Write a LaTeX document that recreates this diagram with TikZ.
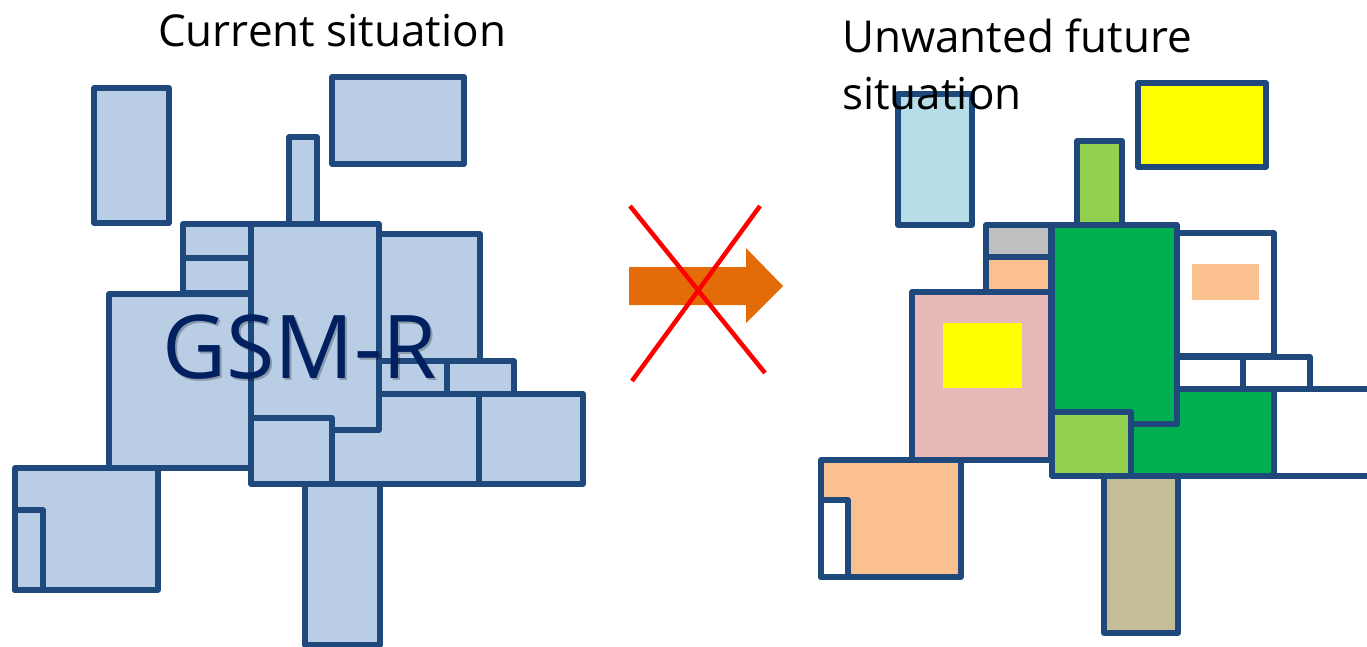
\documentclass[tikz,border=0pt]{standalone}
\usepackage{fontspec}
\setmainfont{Open Sans}
\definecolor{edge}{HTML}{1F497D}
\definecolor{lblue}{HTML}{B9CDE5}
\definecolor{skyb}{HTML}{B7DDE8}
\definecolor{grayf}{HTML}{BFBFBF}
\definecolor{peach}{HTML}{FAC090}
\definecolor{pink}{HTML}{E6B9B8}
\definecolor{dgreen}{HTML}{00B050}
\definecolor{lgreen}{HTML}{92D050}
\definecolor{tan}{HTML}{C4BD97}
\definecolor{yel}{HTML}{FFFF00}
\definecolor{navy}{HTML}{002060}
\definecolor{orng}{HTML}{E36C09}
\tikzset{
  box/.style={draw=edge,line width=5.5pt,line join=round},
  lbox/.style={box,fill=lblue},
  title/.style={anchor=base west,inner sep=0pt,font=\fontsize{44}{50}\selectfont},
  cross/.style={draw=red,line width=4.5pt}
}
\begin{document}
\begin{tikzpicture}[x=1pt,y=-1pt]
\useasboundingbox (0,0) rectangle (1367,647);
\begin{scope}
\clip (0,0) rectangle (1367,647);
% ---- left map ----
\draw[lbox] (94,88) rectangle (169,223);
\draw[lbox] (289,137) rectangle (317,224);
\draw[lbox] (332,77) rectangle (464,164);
\draw[lbox] (183,224) rectangle (251,258);
\draw[lbox] (183,258) rectangle (251,293);
\draw[lbox] (109,294) rectangle (251,468);
\draw[lbox] (15,468) rectangle (158,590);
\draw[lbox] (15,510) rectangle (43,590);
\draw[lbox] (379,234) rectangle (480,361);
\draw[lbox] (379,361) rectangle (447,394);
\draw[lbox] (447,361) rectangle (514,394);
\draw[lbox] (332,394) rectangle (479,484);
\draw[lbox] (479,394) rectangle (583,484);
\draw[lbox] (251,224) rectangle (379,430);
\draw[lbox] (251,418) rectangle (332,484);
\draw[lbox] (305,484) rectangle (380,645);
\node[anchor=base west,inner sep=0pt,text=black,opacity=0.25,font=\fontsize{88}{92}\selectfont] (gsmsh) at (164,380) {GSM-R};
\node[anchor=base west,inner sep=0pt,text=navy,font=\fontsize{88}{92}\selectfont] (gsm) at (162,378) {GSM-R};
% ---- arrow and cross ----
\fill[orng] (629,267) -- (746,267) -- (746,248) -- (783,286) -- (746,323) -- (746,305) -- (629,305) -- cycle;
\draw[cross] (630,206) -- (765,373);
\draw[cross] (760,206) -- (632,381);
% ---- right map ----
\draw[box,fill=skyb] (898,94) rectangle (972,225);
\draw[box,fill=lgreen] (1077,141) rectangle (1122,225);
\draw[box,fill=yel] (1138,83) rectangle (1266,167);
\draw[box,fill=grayf] (986,225) rectangle (1051,257);
\draw[box,fill=peach] (986,257) rectangle (1051,292);
\draw[box,fill=pink] (912,292) rectangle (1051,460);
\fill[yel] (943,323) rectangle (1022,388);
\draw[box,fill=peach] (821,460) rectangle (961,577);
\draw[box,fill=white] (821,500) rectangle (848,577);
\draw[box,fill=white] (1176,233) rectangle (1274,356);
\fill[peach] (1192,264) rectangle (1259,300);
\draw[box,fill=white] (1177,357) rectangle (1243,389);
\draw[box,fill=white] (1243,357) rectangle (1310,389);
\draw[box,fill=dgreen] (1131,389) rectangle (1274,476);
\draw[box,fill=white] (1274,389) rectangle (1390,476);
\draw[box,fill=dgreen] (1052,225) rectangle (1177,424);
\draw[box,fill=lgreen] (1052,412) rectangle (1131,476);
\draw[box,fill=tan] (1104,476) rectangle (1178,633);
\end{scope}
% ---- titles ----
\node[title] (cur) at (158,47) {Current situation};
\node[title] (unw1) at (842,53) {Unwanted future};
\node[title] (unw2) at (842,110) {situation};
\end{tikzpicture}
\end{document}
